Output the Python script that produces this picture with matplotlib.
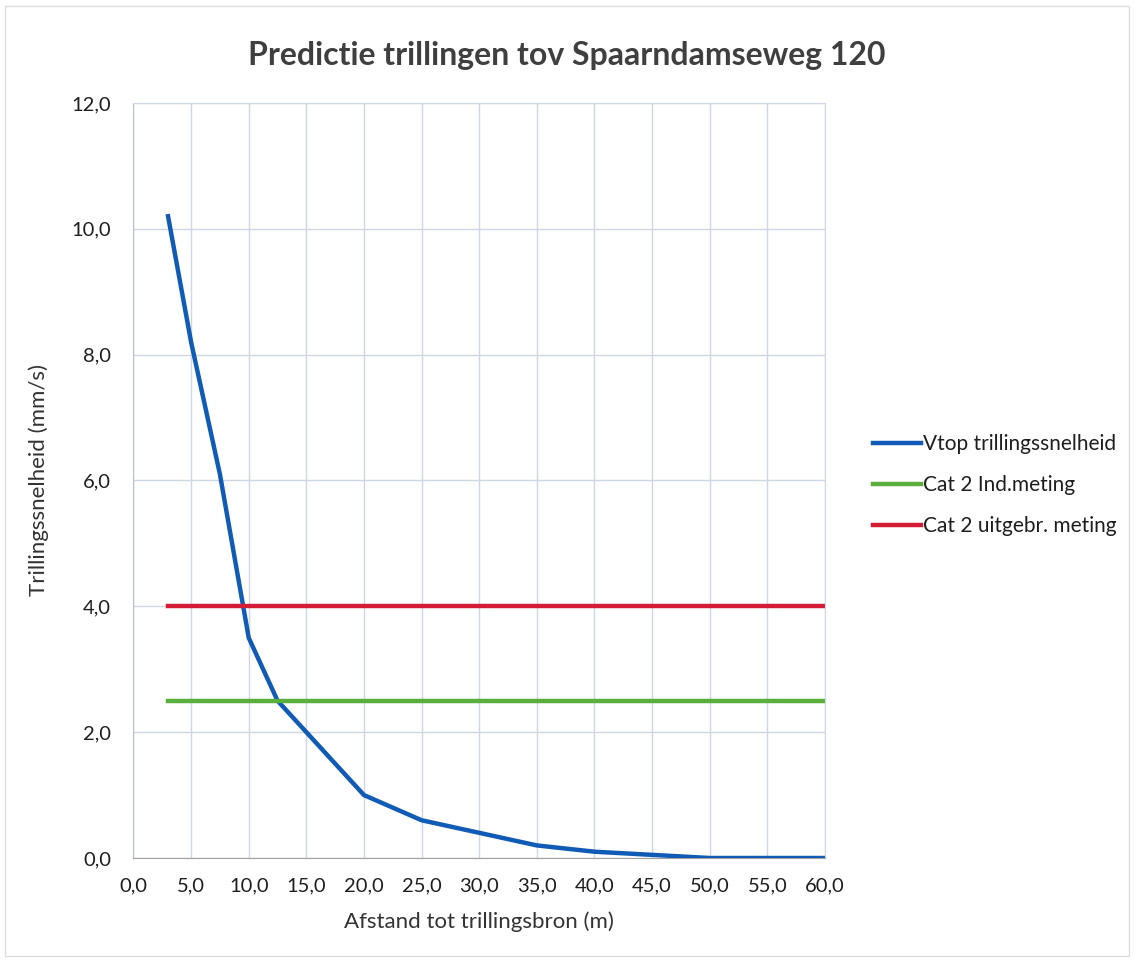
import matplotlib.pyplot as plt
from matplotlib.ticker import FuncFormatter, MultipleLocator

# data
afstand = [3, 5, 7.5, 10, 12.5, 15, 20, 25, 30, 35, 40, 45, 50, 60]
vtop = [10.2, 8.2, 6.1, 3.5, 2.5, 2.0, 1.0, 0.6, 0.4, 0.2, 0.1, 0.05, 0.0, 0.0]
grens_x = [3, 60]
cat2_ind = [2.5, 2.5]
cat2_uitgebr = [4.0, 4.0]

plt.rcParams['font.family'] = ['Lato', 'DejaVu Sans']

fig = plt.figure(figsize=(11.34, 9.6), dpi=100)
ax = fig.add_axes([0.1177, 0.10625, 0.6098, 0.7865])

ax.plot(afstand, vtop, color='#0f5bb5', lw=3.2, label='Vtop trillingssnelheid', solid_joinstyle='miter')
ax.plot(grens_x, cat2_ind, color='#5aaf3c', lw=3.2, label='Cat 2 Ind.meting')
ax.plot(grens_x, cat2_uitgebr, color='#d41c36', lw=3.2, label='Cat 2 uitgebr. meting')

ax.set_xlim(0, 60)
ax.set_ylim(0, 12)
ax.xaxis.set_major_locator(MultipleLocator(5))
ax.yaxis.set_major_locator(MultipleLocator(2))
fmt = FuncFormatter(lambda v, p: f'{v:.1f}'.replace('.', ','))
ax.xaxis.set_major_formatter(fmt)
ax.yaxis.set_major_formatter(fmt)
ax.tick_params(length=0, labelsize=14.5, colors='#1e1e1e')
ax.tick_params(axis='x', pad=14)
ax.tick_params(axis='y', pad=16)
ax.grid(True, color='#cfd6e4', lw=1)
ax.set_axisbelow(True)
for s in ax.spines.values():
    s.set_color('#cfd6e4')
ax.spines['bottom'].set_color('#a0a0a0')
ax.spines['left'].set_color('#b8c0d0')

ax.set_xlabel('Afstand tot trillingsbron (m)', fontsize=16, color='#333333', labelpad=12)
ax.set_ylabel('Trillingssnelheid (mm/s)', fontsize=16, color='#333333', labelpad=16)

fig.text(0.5, 1 - 55 / 960, 'Predictie trillingen tov Spaarndamseweg 120', ha='center', va='center',
         fontsize=23, fontweight='bold', color='#3f3f3f')

ax.legend(loc='center left', bbox_to_anchor=(873 / 1134, 1 - 485 / 960),
          bbox_transform=fig.transFigure, frameon=False, borderpad=0, borderaxespad=0,
          fontsize=15, handlelength=2.3, handletextpad=0.1, labelspacing=1.0,
          labelcolor='#1e1e1e')

fig.patches.append(plt.Rectangle((0.004, 0.004), 0.992, 0.99, transform=fig.transFigure,
                                 fill=False, edgecolor='#dddddd', lw=1))

fig.savefig('out.png', dpi=100)
